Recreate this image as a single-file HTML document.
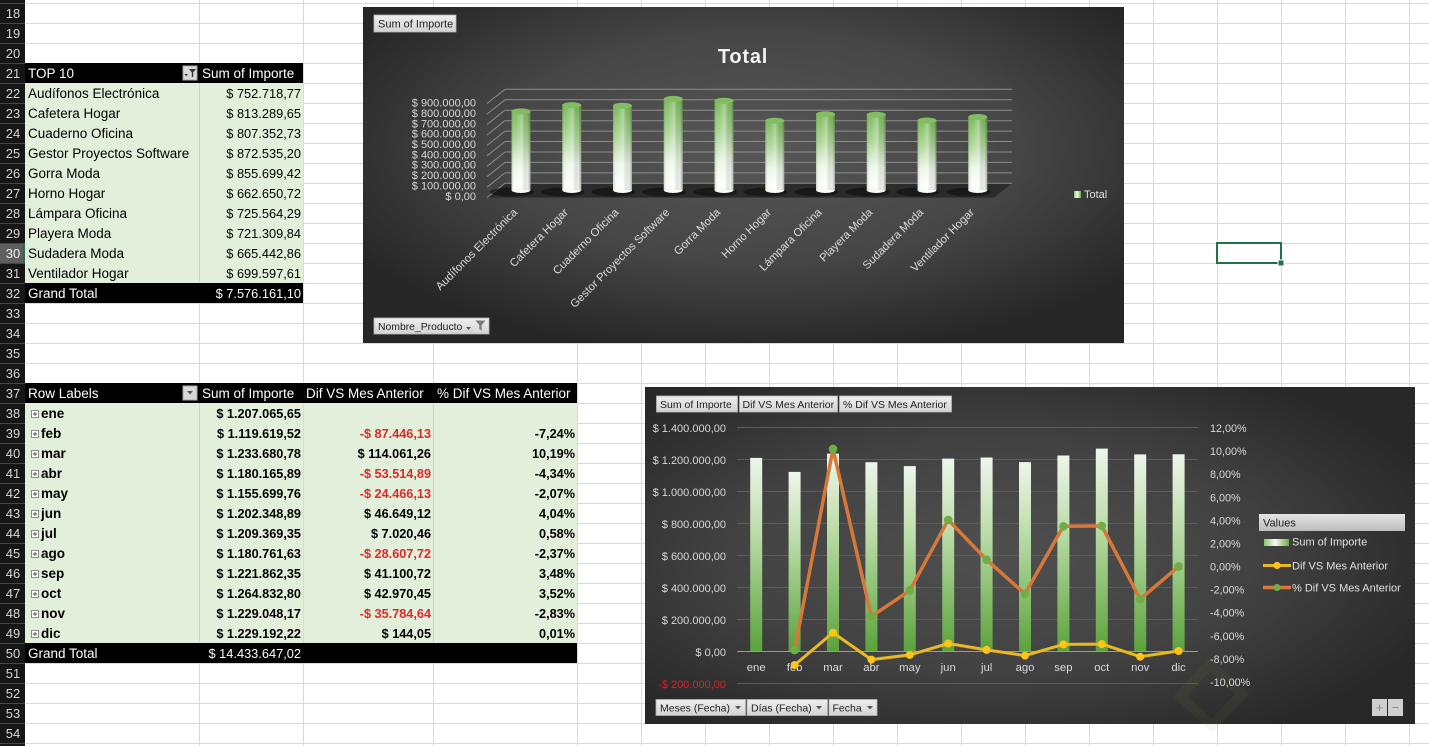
<!DOCTYPE html>
<html><head><meta charset="utf-8"><style>
html,body{margin:0;padding:0;background:#fff;}
svg{display:block;}
text{font-family:"Liberation Sans",Arial,sans-serif;}
</style></head><body>
<svg width="1429" height="746" viewBox="0 0 1429 746" xmlns="http://www.w3.org/2000/svg">
<defs>
<pattern id="hg" x="0" y="3" width="1429" height="20" patternUnits="userSpaceOnUse"><rect x="0" y="0" width="1429" height="1" fill="#dadada"/></pattern>
<pattern id="hg2" x="0" y="3" width="25" height="20" patternUnits="userSpaceOnUse"><rect x="0" y="0" width="25" height="1" fill="#454545"/></pattern>
<radialGradient id="bg1" cx="0.52" cy="0.42" r="0.62">
<stop offset="0" stop-color="#565656"/><stop offset="0.55" stop-color="#464646"/><stop offset="1" stop-color="#262626"/>
</radialGradient>
<radialGradient id="bg2" cx="0.45" cy="0.5" r="0.62">
<stop offset="0" stop-color="#4f4f4f"/><stop offset="0.55" stop-color="#424242"/><stop offset="1" stop-color="#282828"/>
</radialGradient>
<linearGradient id="btn" x1="0" y1="0" x2="0" y2="1"><stop offset="0" stop-color="#efefef"/><stop offset="1" stop-color="#d3d3d3"/></linearGradient>
<linearGradient id="cylV" x1="0" y1="0" x2="0" y2="1">
<stop offset="0" stop-color="#7cba5b"/><stop offset="0.35" stop-color="#abd596"/><stop offset="0.7" stop-color="#eef7ea"/><stop offset="1" stop-color="#ffffff"/>
</linearGradient>
<linearGradient id="cylH" x1="0" y1="0" x2="1" y2="0">
<stop offset="0" stop-color="#3c5a28" stop-opacity="0.25"/><stop offset="0.2" stop-color="#ffffff" stop-opacity="0"/><stop offset="0.55" stop-color="#ffffff" stop-opacity="0.3"/><stop offset="0.85" stop-color="#000" stop-opacity="0.06"/><stop offset="1" stop-color="#000" stop-opacity="0.32"/>
</linearGradient>
<linearGradient id="barG" x1="0" y1="0" x2="0" y2="1">
<stop offset="0" stop-color="#eef6eb"/><stop offset="0.4" stop-color="#b9dba6"/><stop offset="1" stop-color="#5ba33b"/>
</linearGradient>
<linearGradient id="legG" x1="0" y1="0" x2="1" y2="0">
<stop offset="0" stop-color="#86c56a"/><stop offset="0.45" stop-color="#f6fbf3"/><stop offset="1" stop-color="#68ad48"/>
</linearGradient>
<linearGradient id="valG" x1="0" y1="0" x2="0" y2="1"><stop offset="0" stop-color="#e4e4e4"/><stop offset="1" stop-color="#bdbdbd"/></linearGradient>
</defs>

<!-- sheet background and grid -->
<rect x="0" y="0" width="1429" height="746" fill="#fff"/>
<rect x="25" y="0" width="1404" height="746" fill="url(#hg)"/>
<g fill="#dadada">
<rect x="199" y="0" width="1" height="746"/><rect x="303" y="0" width="1" height="746"/><rect x="433" y="0" width="1" height="746"/>
<rect x="577" y="0" width="1" height="746"/><rect x="641" y="0" width="1" height="746"/><rect x="705" y="0" width="1" height="746"/>
<rect x="769" y="0" width="1" height="746"/><rect x="833" y="0" width="1" height="746"/><rect x="897" y="0" width="1" height="746"/>
<rect x="961" y="0" width="1" height="746"/><rect x="1025" y="0" width="1" height="746"/><rect x="1089" y="0" width="1" height="746"/>
<rect x="1153" y="0" width="1" height="746"/><rect x="1217" y="0" width="1" height="746"/><rect x="1281" y="0" width="1" height="746"/>
<rect x="1345" y="0" width="1" height="746"/><rect x="1409" y="0" width="1" height="746"/>
</g>

<!-- row header -->
<rect x="0" y="0" width="25" height="746" fill="#161616"/>
<rect x="0" y="0" width="25" height="746" fill="url(#hg2)"/>
<rect x="0" y="244" width="24" height="19" fill="#5f5f5f"/>
<rect x="23" y="243" width="2" height="20" fill="#217346"/>
<g font-size="13" fill="#d6d6d6" text-anchor="middle">
<text x="13" y="18">18</text><text x="13" y="38">19</text><text x="13" y="58">20</text><text x="13" y="78">21</text>
<text x="13" y="98">22</text><text x="13" y="118">23</text><text x="13" y="138">24</text><text x="13" y="158">25</text>
<text x="13" y="178">26</text><text x="13" y="198">27</text><text x="13" y="218">28</text><text x="13" y="238">29</text>
<text x="13" y="258" fill="#f2f2f2">30</text><text x="13" y="278">31</text><text x="13" y="298">32</text><text x="13" y="318">33</text>
<text x="13" y="338">34</text><text x="13" y="358">35</text><text x="13" y="378">36</text><text x="13" y="398">37</text>
<text x="13" y="418">38</text><text x="13" y="438">39</text><text x="13" y="458">40</text><text x="13" y="478">41</text>
<text x="13" y="498">42</text><text x="13" y="518">43</text><text x="13" y="538">44</text><text x="13" y="558">45</text>
<text x="13" y="578">46</text><text x="13" y="598">47</text><text x="13" y="618">48</text><text x="13" y="638">49</text>
<text x="13" y="658">50</text><text x="13" y="678">51</text><text x="13" y="698">52</text><text x="13" y="718">53</text>
<text x="13" y="738">54</text>
</g>

<!-- selected cell -->
<rect x="1217" y="243" width="64" height="20" fill="none" stroke="#217346" stroke-width="2"/>
<rect x="1278" y="260" width="6" height="6" fill="#217346" stroke="#fff" stroke-width="1"/>

<!-- TOP 10 table -->
<rect x="25" y="63" width="278" height="20" fill="#000"/>
<rect x="25" y="83" width="278" height="200" fill="#e2efda"/>
<rect x="199" y="83" width="1" height="200" fill="#c9d7c1"/>
<rect x="25" y="283" width="278" height="20" fill="#000"/>
<rect x="183" y="66" width="14" height="14" fill="#d9d9d9" stroke="#a8a8a8" stroke-width="1"/>
<path d="M189,69 h7 l-2.8,3.4 v4.2 l-1.4,1 v-5.2 z" fill="#333"/>
<path d="M184.5,74 h3.4 l-1.7,2.2 z" fill="#333"/>
<g font-size="13.5" fill="#fff">
<text x="28" y="78">TOP 10</text>
<text x="202" y="78">Sum of Importe</text>
<text x="28" y="298">Grand Total</text>
<text x="301" y="298" text-anchor="end" font-size="12.8">$ 7.576.161,10</text>
</g>
<g font-size="13.5" fill="#000">
<text x="28" y="98">Audífonos Electrónica</text>
<text x="28" y="118">Cafetera Hogar</text>
<text x="28" y="138">Cuaderno Oficina</text>
<text x="28" y="158">Gestor Proyectos Software</text>
<text x="28" y="178">Gorra Moda</text>
<text x="28" y="198">Horno Hogar</text>
<text x="28" y="218">Lámpara Oficina</text>
<text x="28" y="238">Playera Moda</text>
<text x="28" y="258">Sudadera Moda</text>
<text x="28" y="278">Ventilador Hogar</text>
</g>
<g font-size="12.8" fill="#000" text-anchor="end">
<text x="301" y="98">$ 752.718,77</text>
<text x="301" y="118">$ 813.289,65</text>
<text x="301" y="138">$ 807.352,73</text>
<text x="301" y="158">$ 872.535,20</text>
<text x="301" y="178">$ 855.699,42</text>
<text x="301" y="198">$ 662.650,72</text>
<text x="301" y="218">$ 725.564,29</text>
<text x="301" y="238">$ 721.309,84</text>
<text x="301" y="258">$ 665.442,86</text>
<text x="301" y="278">$ 699.597,61</text>
</g>

<!-- Monthly table -->
<rect x="25" y="383" width="552" height="20" fill="#000"/>
<rect x="25" y="403" width="552" height="240" fill="#e2efda"/>
<rect x="199" y="403" width="1" height="240" fill="#c9d7c1"/>
<rect x="303" y="403" width="1" height="240" fill="#d3dfcc"/>
<rect x="433" y="403" width="1" height="240" fill="#c9d7c1"/>
<rect x="25" y="643" width="552" height="20" fill="#000"/>
<rect x="183" y="386" width="14" height="14" fill="#d9d9d9" stroke="#a8a8a8" stroke-width="1"/>
<path d="M187,391 h6 l-3,3.5 z" fill="#555"/>
<g font-size="13.5" fill="#fff">
<text x="28" y="398">Row Labels</text>
<text x="202" y="398">Sum of Importe</text>
<text x="306" y="398">Dif VS Mes Anterior</text>
<text x="437" y="398">% Dif VS Mes Anterior</text>
<text x="28" y="658">Grand Total</text>
<text x="301" y="658" text-anchor="end" font-size="12.8">$ 14.433.647,02</text>
</g>
<g fill="#fff" stroke="#8c8c8c" stroke-width="1">
<rect x="31.5" y="410.5" width="7" height="7"/><rect x="31.5" y="430.5" width="7" height="7"/><rect x="31.5" y="450.5" width="7" height="7"/>
<rect x="31.5" y="470.5" width="7" height="7"/><rect x="31.5" y="490.5" width="7" height="7"/><rect x="31.5" y="510.5" width="7" height="7"/>
<rect x="31.5" y="530.5" width="7" height="7"/><rect x="31.5" y="550.5" width="7" height="7"/><rect x="31.5" y="570.5" width="7" height="7"/>
<rect x="31.5" y="590.5" width="7" height="7"/><rect x="31.5" y="610.5" width="7" height="7"/><rect x="31.5" y="630.5" width="7" height="7"/>
</g>
<g stroke="#555" stroke-width="1">
<path d="M33,414h4M35,412v4M33,434h4M35,432v4M33,454h4M35,452v4M33,474h4M35,472v4M33,494h4M35,492v4M33,514h4M35,512v4M33,534h4M35,532v4M33,554h4M35,552v4M33,574h4M35,572v4M33,594h4M35,592v4M33,614h4M35,612v4M33,634h4M35,632v4"/>
</g>
<g font-size="13.5" fill="#000" font-weight="bold">
<text x="41" y="418">ene</text><text x="41" y="438">feb</text><text x="41" y="458">mar</text><text x="41" y="478">abr</text>
<text x="41" y="498">may</text><text x="41" y="518">jun</text><text x="41" y="538">jul</text><text x="41" y="558">ago</text>
<text x="41" y="578">sep</text><text x="41" y="598">oct</text><text x="41" y="618">nov</text><text x="41" y="638">dic</text>
</g>
<g font-size="12.7" fill="#000" font-weight="bold" text-anchor="end">
<text x="301" y="418">$ 1.207.065,65</text><text x="301" y="438">$ 1.119.619,52</text><text x="301" y="458">$ 1.233.680,78</text>
<text x="301" y="478">$ 1.180.165,89</text><text x="301" y="498">$ 1.155.699,76</text><text x="301" y="518">$ 1.202.348,89</text>
<text x="301" y="538">$ 1.209.369,35</text><text x="301" y="558">$ 1.180.761,63</text><text x="301" y="578">$ 1.221.862,35</text>
<text x="301" y="598">$ 1.264.832,80</text><text x="301" y="618">$ 1.229.048,17</text><text x="301" y="638">$ 1.229.192,22</text>
<text x="431" y="438" fill="#dc2a2a">-$ 87.446,13</text>
<text x="431" y="458">$ 114.061,26</text>
<text x="431" y="478" fill="#dc2a2a">-$ 53.514,89</text>
<text x="431" y="498" fill="#dc2a2a">-$ 24.466,13</text>
<text x="431" y="518">$ 46.649,12</text>
<text x="431" y="538">$ 7.020,46</text>
<text x="431" y="558" fill="#dc2a2a">-$ 28.607,72</text>
<text x="431" y="578">$ 41.100,72</text>
<text x="431" y="598">$ 42.970,45</text>
<text x="431" y="618" fill="#dc2a2a">-$ 35.784,64</text>
<text x="431" y="638">$ 144,05</text>
<text x="575" y="438">-7,24%</text><text x="575" y="458">10,19%</text><text x="575" y="478">-4,34%</text>
<text x="575" y="498">-2,07%</text><text x="575" y="518">4,04%</text><text x="575" y="538">0,58%</text>
<text x="575" y="558">-2,37%</text><text x="575" y="578">3,48%</text><text x="575" y="598">3,52%</text>
<text x="575" y="618">-2,83%</text><text x="575" y="638">0,01%</text>
</g>

<!-- ============ TOP CHART ============ -->
<rect x="363" y="7" width="761" height="336" fill="url(#bg1)"/>
<rect x="374" y="15" width="82" height="17" fill="url(#btn)" stroke="#b5b5b5" stroke-width="0.8"/>
<text x="378" y="27.5" font-size="11" fill="#222">Sum of Importe</text>
<text x="743" y="63" font-size="20" font-weight="bold" fill="#f2f2f2" text-anchor="middle" letter-spacing="0.8">Total</text>

<!-- floor -->
<polygon points="487,197.6 505,183.3 1012,183.3 994,197.6" fill="#2b2b2b"/>
<!-- gridlines back wall + diagonals -->
<g stroke="#8c8c8c" stroke-width="1" fill="none">
<path d="M505,183.3H1012M505,172.9H1012M505,162.4H1012M505,152H1012M505,141.5H1012M505,131.1H1012M505,120.7H1012M505,110.2H1012M505,99.8H1012M505,89.3H1012"/>
<path d="M487,197.6L505,183.3M487,187.2L505,172.9M487,176.7L505,162.4M487,166.3L505,152M487,155.8L505,141.5M487,145.4L505,131.1M487,135L505,120.7M487,124.5L505,110.2M487,114.1L505,99.8M487,103.6L505,89.3"/>
</g>
<g font-size="11" fill="#d9d9d9" text-anchor="end">
<text x="476" y="106.5">$ 900.000,00</text>
<text x="476" y="116.9">$ 800.000,00</text>
<text x="476" y="127.3">$ 700.000,00</text>
<text x="476" y="137.6">$ 600.000,00</text>
<text x="476" y="148">$ 500.000,00</text>
<text x="476" y="158.3">$ 400.000,00</text>
<text x="476" y="168.7">$ 300.000,00</text>
<text x="476" y="179.1">$ 200.000,00</text>
<text x="476" y="189.4">$ 100.000,00</text>
<text x="476" y="199.8">$ 0,00</text>
</g>
<!-- shadows -->
<g fill="#101010" opacity="0.65">
<ellipse cx="512" cy="192" rx="22" ry="4.5"/><ellipse cx="562.75" cy="192" rx="22" ry="4.5"/><ellipse cx="613.5" cy="192" rx="22" ry="4.5"/>
<ellipse cx="664.25" cy="192" rx="22" ry="4.5"/><ellipse cx="715" cy="192" rx="22" ry="4.5"/><ellipse cx="765.75" cy="192" rx="22" ry="4.5"/>
<ellipse cx="816.5" cy="192" rx="22" ry="4.5"/><ellipse cx="867.25" cy="192" rx="22" ry="4.5"/><ellipse cx="918" cy="192" rx="22" ry="4.5"/>
<ellipse cx="968.75" cy="192" rx="22" ry="4.5"/>
</g>
<!-- cylinders -->
<g>
<rect x="511.5" y="111.4" width="19" height="78.6" fill="url(#cylV)"/>
<rect x="562.25" y="105.1" width="19" height="84.9" fill="url(#cylV)"/>
<rect x="613" y="105.7" width="19" height="84.3" fill="url(#cylV)"/>
<rect x="663.75" y="98.9" width="19" height="91.1" fill="url(#cylV)"/>
<rect x="714.5" y="100.7" width="19" height="89.3" fill="url(#cylV)"/>
<rect x="765.25" y="120.8" width="19" height="69.2" fill="url(#cylV)"/>
<rect x="816" y="114.3" width="19" height="75.7" fill="url(#cylV)"/>
<rect x="866.75" y="114.7" width="19" height="75.3" fill="url(#cylV)"/>
<rect x="917.5" y="120.5" width="19" height="69.5" fill="url(#cylV)"/>
<rect x="968.25" y="117" width="19" height="73" fill="url(#cylV)"/>
</g>
<g fill="#f7fbf5">
<ellipse cx="521" cy="190" rx="9.5" ry="3"/><ellipse cx="571.75" cy="190" rx="9.5" ry="3"/><ellipse cx="622.5" cy="190" rx="9.5" ry="3"/>
<ellipse cx="673.25" cy="190" rx="9.5" ry="3"/><ellipse cx="724" cy="190" rx="9.5" ry="3"/><ellipse cx="774.75" cy="190" rx="9.5" ry="3"/>
<ellipse cx="825.5" cy="190" rx="9.5" ry="3"/><ellipse cx="876.25" cy="190" rx="9.5" ry="3"/><ellipse cx="927" cy="190" rx="9.5" ry="3"/>
<ellipse cx="977.75" cy="190" rx="9.5" ry="3"/>
</g>
<g>
<rect x="511.5" y="111.4" width="19" height="78.6" fill="url(#cylH)"/>
<rect x="562.25" y="105.1" width="19" height="84.9" fill="url(#cylH)"/>
<rect x="613" y="105.7" width="19" height="84.3" fill="url(#cylH)"/>
<rect x="663.75" y="98.9" width="19" height="91.1" fill="url(#cylH)"/>
<rect x="714.5" y="100.7" width="19" height="89.3" fill="url(#cylH)"/>
<rect x="765.25" y="120.8" width="19" height="69.2" fill="url(#cylH)"/>
<rect x="816" y="114.3" width="19" height="75.7" fill="url(#cylH)"/>
<rect x="866.75" y="114.7" width="19" height="75.3" fill="url(#cylH)"/>
<rect x="917.5" y="120.5" width="19" height="69.5" fill="url(#cylH)"/>
<rect x="968.25" y="117" width="19" height="73" fill="url(#cylH)"/>
</g>
<g fill="#82bd63">
<ellipse cx="521" cy="111.4" rx="9.5" ry="3"/><ellipse cx="571.75" cy="105.1" rx="9.5" ry="3"/><ellipse cx="622.5" cy="105.7" rx="9.5" ry="3"/>
<ellipse cx="673.25" cy="98.9" rx="9.5" ry="3"/><ellipse cx="724" cy="100.7" rx="9.5" ry="3"/><ellipse cx="774.75" cy="120.8" rx="9.5" ry="3"/>
<ellipse cx="825.5" cy="114.3" rx="9.5" ry="3"/><ellipse cx="876.25" cy="114.7" rx="9.5" ry="3"/><ellipse cx="927" cy="120.5" rx="9.5" ry="3"/>
<ellipse cx="977.75" cy="117" rx="9.5" ry="3"/>
</g>
<!-- category labels -->
<g font-size="11.3" fill="#d9d9d9" text-anchor="end">
<text transform="translate(518,213) rotate(-45)">Audífonos Electrónica</text>
<text transform="translate(568.75,213) rotate(-45)">Cafetera Hogar</text>
<text transform="translate(619.5,213) rotate(-45)">Cuaderno Oficina</text>
<text transform="translate(670.25,213) rotate(-45)">Gestor Proyectos Software</text>
<text transform="translate(721,213) rotate(-45)">Gorra Moda</text>
<text transform="translate(771.75,213) rotate(-45)">Horno Hogar</text>
<text transform="translate(822.5,213) rotate(-45)">Lámpara Oficina</text>
<text transform="translate(873.25,213) rotate(-45)">Playera Moda</text>
<text transform="translate(924,213) rotate(-45)">Sudadera Moda</text>
<text transform="translate(974.75,213) rotate(-45)">Ventilador Hogar</text>
</g>
<!-- legend -->
<rect x="1074" y="191" width="7" height="7" fill="url(#legG)"/>
<text x="1084" y="198" font-size="11" fill="#e0e0e0">Total</text>
<!-- Nombre_Producto button -->
<rect x="374" y="318" width="115" height="16" fill="url(#btn)" stroke="#b5b5b5" stroke-width="0.8"/>
<text x="378" y="330" font-size="10.4" fill="#222">Nombre_Producto</text>
<path d="M466,327 h5 l-2.5,3 z" fill="#555"/>
<path d="M475.5,320.5 h10 l-3.8,4.5 v5.5 l-2.4,-1.5 v-4 z" fill="#7a7a7a"/>

<!-- ============ BOTTOM CHART ============ -->
<rect x="645" y="387" width="770" height="337" fill="url(#bg2)"/>
<!-- watermark -->
<path d="M1210,664 L1242,694 L1212,726 L1180,696 Z" stroke="#8f9a48" stroke-opacity="0.07" stroke-width="10" fill="none"/>
<!-- buttons -->
<g fill="url(#btn)" stroke="#b5b5b5" stroke-width="0.8">
<rect x="656.5" y="396" width="81" height="16"/>
<rect x="739.5" y="396" width="98" height="16"/>
<rect x="839.5" y="396" width="112" height="16"/>
<rect x="656" y="699.5" width="89.5" height="16"/>
<rect x="747" y="699.5" width="80.5" height="16"/>
<rect x="829" y="699.5" width="48" height="16"/>
</g>
<g font-size="10.5" fill="#222">
<text x="660" y="408">Sum of Importe</text>
<text x="742.5" y="408">Dif VS Mes Anterior</text>
<text x="843" y="408">% Dif VS Mes Anterior</text>
<text x="660" y="711.5">Meses (Fecha)</text>
<text x="751" y="711.5">Días (Fecha)</text>
<text x="832.5" y="711.5">Fecha</text>
</g>
<path d="M735,706 h6 l-3,3.5 z M816,706 h6 l-3,3.5 z M867,706 h6 l-3,3.5 z" fill="#555"/>
<rect x="1372" y="699" width="15" height="17" fill="#cfcfcf"/>
<rect x="1388" y="699" width="15" height="17" fill="#cfcfcf"/>
<text x="1379.5" y="712" font-size="13" fill="#8a8a8a" text-anchor="middle">+</text>
<text x="1395.5" y="712" font-size="13" fill="#8a8a8a" text-anchor="middle">−</text>

<!-- gridlines -->
<g stroke="#5c5c5c" stroke-width="1">
<path d="M737,427.5H1198M737,459.5H1198M737,491.5H1198M737,523.5H1198M737,555.5H1198M737,587.5H1198M737,619.5H1198M737,683.5H1198"/>
</g>
<!-- bars -->
<g fill="url(#barG)">
<rect x="750.2" y="457.9" width="12" height="193.1"/>
<rect x="788.6" y="471.9" width="12" height="179.1"/>
<rect x="827" y="453.6" width="12" height="197.4"/>
<rect x="865.4" y="462.2" width="12" height="188.8"/>
<rect x="903.8" y="466.1" width="12" height="184.9"/>
<rect x="942.2" y="458.6" width="12" height="192.4"/>
<rect x="980.6" y="457.5" width="12" height="193.5"/>
<rect x="1019" y="462.1" width="12" height="188.9"/>
<rect x="1057.4" y="455.5" width="12" height="195.5"/>
<rect x="1095.8" y="448.6" width="12" height="202.4"/>
<rect x="1134.2" y="454.4" width="12" height="196.6"/>
<rect x="1172.6" y="454.3" width="12" height="196.7"/>
</g>
<path d="M737,651.5H1198" stroke="#9a9a9a" stroke-width="1"/>
<!-- axis labels -->
<g font-size="11" fill="#d9d9d9" text-anchor="end">
<text x="726" y="432">$ 1.400.000,00</text>
<text x="726" y="464">$ 1.200.000,00</text>
<text x="726" y="496">$ 1.000.000,00</text>
<text x="726" y="528">$ 800.000,00</text>
<text x="726" y="560">$ 600.000,00</text>
<text x="726" y="592">$ 400.000,00</text>
<text x="726" y="624">$ 200.000,00</text>
<text x="726" y="656">$ 0,00</text>
<text x="726" y="688" fill="#d42424">-$ 200.000,00</text>
</g>
<g font-size="10.8" fill="#d9d9d9">
<text x="1210" y="432">12,00%</text>
<text x="1210" y="455.1">10,00%</text>
<text x="1210" y="478.2">8,00%</text>
<text x="1210" y="501.3">6,00%</text>
<text x="1210" y="524.4">4,00%</text>
<text x="1210" y="547.5">2,00%</text>
<text x="1210" y="570.5">0,00%</text>
<text x="1210" y="593.6">-2,00%</text>
<text x="1210" y="616.7">-4,00%</text>
<text x="1210" y="639.8">-6,00%</text>
<text x="1210" y="662.9">-8,00%</text>
<text x="1210" y="686">-10,00%</text>
</g>
<g font-size="11.3" fill="#d9d9d9" text-anchor="middle">
<text x="756.2" y="671">ene</text><text x="794.6" y="671">feb</text><text x="833" y="671">mar</text>
<text x="871.4" y="671">abr</text><text x="909.8" y="671">may</text><text x="948.2" y="671">jun</text>
<text x="986.6" y="671">jul</text><text x="1025" y="671">ago</text><text x="1063.4" y="671">sep</text>
<text x="1101.8" y="671">oct</text><text x="1140.2" y="671">nov</text><text x="1178.6" y="671">dic</text>
</g>
<!-- Dif line (yellow) -->
<polyline points="794.6,665 833,632.7 871.4,659.6 909.8,654.9 948.2,643.5 986.6,649.9 1025,655.6 1063.4,644.4 1101.8,644.1 1140.2,656.7 1178.6,651" fill="none" stroke="#e9b921" stroke-width="3" stroke-linejoin="round"/>
<g fill="#ffc417">
<circle cx="794.6" cy="665" r="4"/><circle cx="833" cy="632.7" r="4"/><circle cx="871.4" cy="659.6" r="4"/>
<circle cx="909.8" cy="654.9" r="4"/><circle cx="948.2" cy="643.5" r="4"/><circle cx="986.6" cy="649.9" r="4"/>
<circle cx="1025" cy="655.6" r="4"/><circle cx="1063.4" cy="644.4" r="4"/><circle cx="1101.8" cy="644.1" r="4"/>
<circle cx="1140.2" cy="656.7" r="4"/><circle cx="1178.6" cy="651" r="4"/>
</g>
<!-- % Dif line (orange) -->
<polyline points="794.6,650.1 833,448.9 871.4,616.6 909.8,590.4 948.2,519.9 986.6,559.8 1025,593.9 1063.4,526.3 1101.8,525.9 1140.2,599.2 1178.6,566.4" fill="none" stroke="#d7773a" stroke-width="3.5" stroke-linejoin="round"/>
<g fill="#70ad47">
<circle cx="794.6" cy="650.1" r="4.3"/><circle cx="833" cy="448.9" r="4.3"/><circle cx="871.4" cy="616.6" r="4.3"/>
<circle cx="909.8" cy="590.4" r="4.3"/><circle cx="948.2" cy="519.9" r="4.3"/><circle cx="986.6" cy="559.8" r="4.3"/>
<circle cx="1025" cy="593.9" r="4.3"/><circle cx="1063.4" cy="526.3" r="4.3"/><circle cx="1101.8" cy="525.9" r="4.3"/>
<circle cx="1140.2" cy="599.2" r="4.3"/><circle cx="1178.6" cy="566.4" r="4.3"/>
</g>
<!-- legend -->
<rect x="1259" y="514" width="146" height="17" fill="url(#valG)"/>
<text x="1263" y="526.5" font-size="11" fill="#222">Values</text>
<rect x="1264" y="539" width="25" height="7" fill="url(#legG)"/>
<text x="1292" y="545.5" font-size="11" fill="#e0e0e0">Sum of Importe</text>
<line x1="1263" y1="565.5" x2="1291" y2="565.5" stroke="#e9b921" stroke-width="3"/>
<circle cx="1277" cy="565.5" r="3.6" fill="#ffc417"/>
<text x="1292" y="569.5" font-size="11" fill="#e0e0e0">Dif VS Mes Anterior</text>
<line x1="1263" y1="587.5" x2="1291" y2="587.5" stroke="#d7773a" stroke-width="3.5"/>
<circle cx="1277" cy="587.5" r="3.6" fill="#70ad47"/>
<text x="1292" y="591.5" font-size="11" fill="#e0e0e0">% Dif VS Mes Anterior</text>
</svg>
</body></html>
